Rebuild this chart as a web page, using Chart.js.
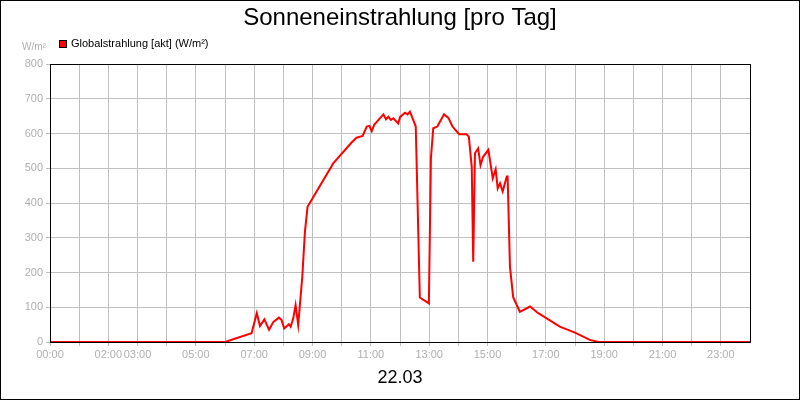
<!DOCTYPE html>
<html><head><meta charset="utf-8">
<script src="https://cdn.jsdelivr.net/npm/chart.js@4"></script>
<style>html,body{margin:0;padding:0;background:#fff}#w{width:800px;height:400px}</style>
</head><body><div id="w"><canvas id="c"></canvas></div>
<script>
const hours = [0,6.0,6.91,7.09,7.2,7.35,7.51,7.66,7.85,7.94,8.03,8.19,8.25,8.34,8.42,8.51,8.65,8.74,8.83,9.71,10.34,10.51,10.72,10.86,10.95,11.03,11.12,11.43,11.52,11.6,11.69,11.77,11.94,12.0,12.17,12.26,12.34,12.43,12.54,12.68,12.99,13.06,13.14,13.28,13.51,13.66,13.8,14.03,14.28,14.36,14.46,14.51,14.57,14.68,14.76,14.85,15.03,15.18,15.28,15.35,15.43,15.52,15.66,15.69,15.77,15.88,16.11,16.46,16.74,17.03,17.48,18.0,18.51,18.8,24];
const globalstrahlung = [0,0,25,83,46,65,35,58,70,63,39,51,44,68,106,49,188,317,389,514,574,588,593,620,622,607,626,655,641,648,639,644,629,647,660,655,663,644,620,128,111,529,615,620,655,645,620,598,598,591,504,231,543,557,509,533,553,471,497,442,457,433,476,476,217,129,87,102,83,68,44,27,6,0,0];
const xLabelHours = [0,2,3,5,7,9,11,13,15,17,19,21,23];
const seriesLabel = 'Globalstrahlung [akt] (W/m²)';
const chartTitle = 'Sonneneinstrahlung [pro Tag]';
const dateLabel = '22.03';
const unitLabel = 'W/m²';

const deco = {
  id:'deco',
  afterDraw(ch){
    const c=ch.ctx, a=ch.chartArea;
    c.save();
    c.strokeStyle='#000'; c.lineWidth=1;
    c.strokeRect(a.left+0.5,a.top+0.5,a.right-a.left,a.bottom-a.top);
    c.strokeRect(0.5,0.5,799,399);
    c.fillStyle='#000'; c.textAlign='center'; c.textBaseline='middle';
    c.font='24px "Liberation Sans", Arial, sans-serif';
    c.fillText(chartTitle,400,18);
    c.font='18px "Liberation Sans", Arial, sans-serif';
    c.fillText(dateLabel,400,378);
    c.textAlign='left';
    c.font='11px "Liberation Sans", Arial, sans-serif';
    c.fillText(seriesLabel,71,44);
    c.fillStyle='#f00'; c.fillRect(59,40,8,8);
    c.strokeStyle='#000'; c.strokeRect(59.5,40.5,7,7);
    c.fillStyle='#b0b0b0'; c.font='10px "Liberation Sans", Arial, sans-serif';
    c.fillText(unitLabel,22,47);
    c.restore();
  }
};

new Chart(document.getElementById('c'),{
  type:'line',
  data:{datasets:[{label:seriesLabel,data:hours.map((h,i)=>({x:h,y:globalstrahlung[i]})),borderColor:'#ff0000',borderWidth:2,pointRadius:0,tension:0,fill:false}]},
  options:{
    responsive:true,maintainAspectRatio:false,animation:false,
    layout:{padding:{top:64,right:50,bottom:38,left:0}},
    plugins:{legend:{display:false},title:{display:false},tooltip:{enabled:false}},
    scales:{
      x:{type:'linear',min:0,max:24,
        afterFit:s=>{s.height=20;},
        afterBuildTicks:s=>{s.ticks=Array.from({length:24},(_,i)=>({value:i}));},
        grid:{color:'#c0c0c0',tickLength:4,drawTicks:true},
        border:{color:'#000'},
        ticks:{autoSkip:false,maxRotation:0,color:'#b0b0b0',font:{size:11,family:'"Liberation Sans", Arial'},padding:2,
          callback:v=>xLabelHours.includes(v)?String(v).padStart(2,'0')+':00':''}},
      y:{min:0,max:800,
        afterFit:s=>{s.width=50;},
        grid:{color:'#c0c0c0',tickLength:4},
        border:{color:'#000'},
        ticks:{stepSize:100,color:'#b0b0b0',font:{size:11,family:'"Liberation Sans", Arial'},padding:3}}
    }
  },
  plugins:[deco]
});
</script></body></html>
